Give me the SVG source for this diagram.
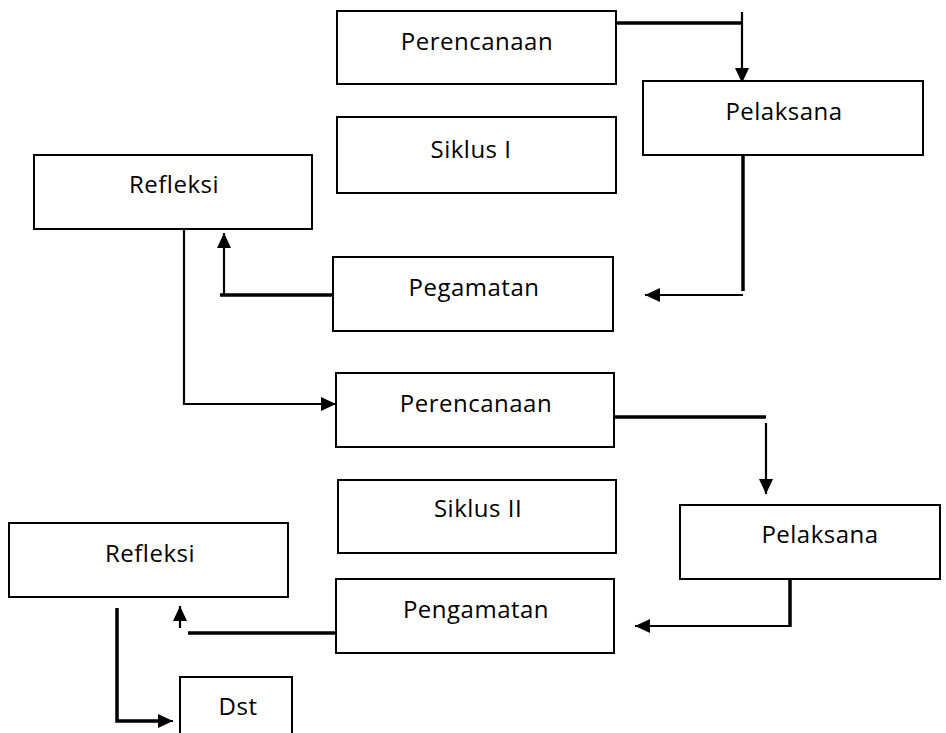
<svg xmlns="http://www.w3.org/2000/svg" width="946" height="733" viewBox="0 0 946 733">
<defs>
<marker id="ah" markerUnits="userSpaceOnUse" markerWidth="15" markerHeight="14" refX="15" refY="7" orient="auto">
<path d="M0,0 L15,7 L0,14 z" fill="#000"/>
</marker>
<style>
.box{fill:#fff;stroke:#000;stroke-width:2}
.lbl{font-family:"Open Sans","Noto Sans",sans-serif;font-size:24px;letter-spacing:0.5px;text-anchor:middle;fill:#000}
.thick{fill:none;stroke:#000;stroke-width:3.5}
.thin{fill:none;stroke:#000;stroke-width:2.2}
.arr{fill:none;stroke:#000;stroke-width:2.2;marker-end:url(#ah)}
</style>
</defs>
<rect width="946" height="733" fill="#fff"/>
<g id="connectors">
<line class="thick" x1="616" y1="23" x2="743" y2="23"/>
<line class="arr" x1="742" y1="12" x2="742" y2="83"/>
<line class="thick" x1="743" y1="155" x2="743" y2="291"/>
<line class="arr" x1="743" y1="295" x2="645" y2="295"/>
<line class="thick" x1="333" y1="295" x2="220" y2="295"/>
<line class="arr" x1="224" y1="294" x2="224" y2="233"/>
<polyline class="arr" points="184,229 184,404 336,404"/>
<line class="thick" x1="614" y1="417" x2="766" y2="417"/>
<line class="arr" x1="766" y1="423" x2="766" y2="494"/>
<line class="thick" x1="790" y1="579" x2="790" y2="627"/>
<line class="arr" x1="790" y1="626" x2="635" y2="626"/>
<line class="thick" x1="336" y1="633" x2="188" y2="633"/>
<line class="arr" x1="180" y1="628" x2="180" y2="606"/>
<polyline class="thick" points="117,608 117,721 160,721"/>
<line class="arr" x1="117" y1="721" x2="173" y2="721"/>
</g>
<g id="perencanaan1"><rect class="box" x="337" y="11" width="279" height="73"/><text class="lbl" x="477" y="50">Perencanaan</text></g>
<g id="pelaksana1"><rect class="box" x="643" y="81" width="280" height="74"/><text class="lbl" x="784" y="120">Pelaksana</text></g>
<g id="siklus1"><rect class="box" x="337" y="117" width="279" height="76"/><text class="lbl" x="471" y="158">Siklus I</text></g>
<g id="refleksi1"><rect class="box" x="34" y="155" width="278" height="74"/><text class="lbl" x="174" y="193">Refleksi</text></g>
<g id="pegamatan"><rect class="box" x="333" y="257" width="280" height="74"/><text class="lbl" x="474" y="296">Pegamatan</text></g>
<g id="perencanaan2"><rect class="box" x="336" y="373" width="278" height="74"/><text class="lbl" x="476" y="412">Perencanaan</text></g>
<g id="siklus2"><rect class="box" x="338" y="480" width="278" height="73"/><text class="lbl" x="478" y="517">Siklus II</text></g>
<g id="pelaksana2"><rect class="box" x="680" y="505" width="260" height="74"/><text class="lbl" x="820" y="543">Pelaksana</text></g>
<g id="refleksi2"><rect class="box" x="9" y="523" width="279" height="74"/><text class="lbl" x="150" y="562">Refleksi</text></g>
<g id="pengamatan"><rect class="box" x="336" y="579" width="278" height="74"/><text class="lbl" x="476" y="618">Pengamatan</text></g>
<g id="dst"><rect class="box" x="180" y="677" width="112" height="70"/><text class="lbl" x="238" y="715">Dst</text></g>
</svg>
